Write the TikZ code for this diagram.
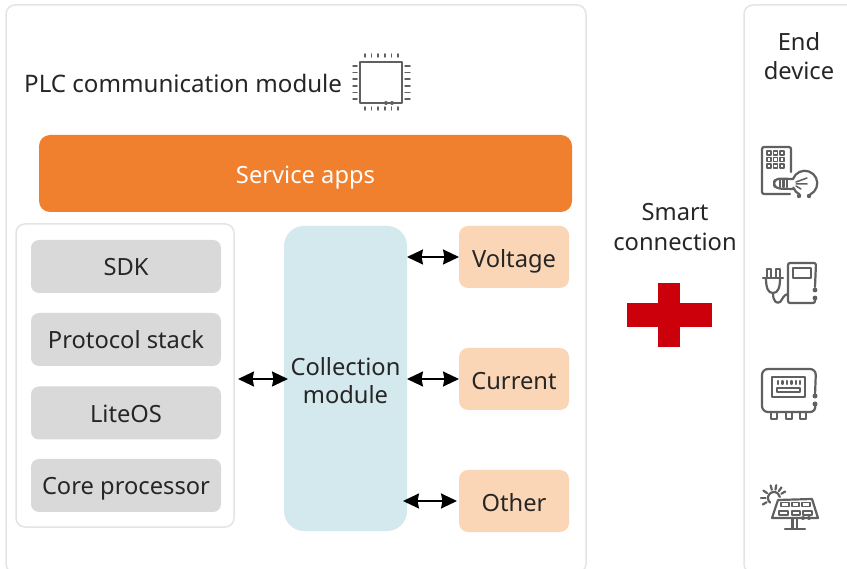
\documentclass[tikz,border=0pt]{standalone}
\usepackage{fontspec}
\setmainfont{Noto Sans}
\usetikzlibrary{arrows.meta,shapes,positioning}
\definecolor{plcorange}{RGB}{240,127,46}
\definecolor{plcgray}{RGB}{217,217,217}
\definecolor{plcteal}{RGB}{211,233,238}
\definecolor{plcpeach}{RGB}{251,214,182}
\definecolor{plcred}{RGB}{204,0,10}
\definecolor{plcline}{RGB}{228,228,228}
\definecolor{plcicon}{RGB}{96,96,96}
\definecolor{plctext}{RGB}{38,38,38}
\newcommand{\plcfont}{\fontsize{23.7}{30}\selectfont}
\tikzstyle{panel} = [rectangle, rounded corners=9pt, draw=plcline, fill=white, line width=1.5pt, inner sep=0pt, outer sep=0pt]
\tikzstyle{layer} = [rectangle, rounded corners=8pt, fill=plcgray, minimum width=190pt, minimum height=53pt, inner sep=0pt, outer sep=0pt, text=plctext, font=\plcfont, text height=19pt, text depth=0pt]
\tikzstyle{signal} = [rectangle, rounded corners=9pt, fill=plcpeach, minimum width=110pt, minimum height=62pt, inner sep=0pt, outer sep=0pt, text=plctext, font=\plcfont, text height=21pt, text depth=0pt]
\tikzstyle{label} = [inner sep=0pt, text=plctext, font=\plcfont, align=center]
\tikzstyle{link} = [line width=1.8pt, black, {Stealth[length=16pt,width=15pt,inset=1.5pt]}-{Stealth[length=16pt,width=15pt,inset=1.5pt]}]
\tikzstyle{icon} = [draw=plcicon, line width=2.2pt, line cap=round, line join=round]
\tikzstyle{thinicon} = [draw=plcicon, line width=1.5pt, line cap=round, line join=round]
\begin{document}
\begin{tikzpicture}[x=1pt,y=-1pt]
\clip (0,0) rectangle (847,569);

% Panels
\node[panel, minimum width=580pt, minimum height=568pt] (module) at (296,289) {};
\node[panel, minimum width=130pt, minimum height=568pt] (device) at (809,289) {};

% Title
\node[label, anchor=west, font=\fontsize{24.1}{30}\selectfont] (title) at (24,83) {PLC communication module};
\node[label] (enddevice) at (799,56) {End\\[-0.5pt]device};

% Chip
\draw[thinicon] (360,62) rectangle (402,103);
\foreach \i in {0,...,5} {
  \draw[thinicon] (365+6.6*\i,54) -- (365+6.6*\i,57);
  \draw[thinicon] (365+6.6*\i,107) -- (365+6.6*\i,110);
  \draw[thinicon] (353,66+6.6*\i) -- (357,66+6.6*\i);
  \draw[thinicon] (405,66+6.6*\i) -- (410,66+6.6*\i);
}
\fill[plcicon] (386,103) circle (2pt) (392,103) circle (2pt);

% Service apps
\node[rectangle, rounded corners=11pt, fill=plcorange, minimum width=533pt, minimum height=77pt, inner sep=0pt, text=white, font=\plcfont, text height=20pt, text depth=0pt] (service) at (305.5,173.5) {Service apps};

% Stack
\node[panel, minimum width=218pt, minimum height=303pt] (stack) at (125,375.5) {};
\node[layer] (sdk) at (126,266.5) {SDK};
\node[layer] (protocol) at (126,339.5) {Protocol stack};
\node[layer] (liteos) at (126,413) {LiteOS};
\node[layer] (core) at (126,485.5) {Core processor};

% Collection
\node[rectangle, rounded corners=20pt, fill=plcteal, minimum width=123pt, minimum height=305pt, inner sep=0pt, outer sep=0pt, text=plctext, font=\plcfont, align=center] (collection) at (345.5,378.5) {\rule{0pt}{22pt}Collection\\[-2pt]module};

% Signals
\node[signal] (voltage) at (514,257) {Voltage};
\node[signal] (current) at (514,379) {Current};
\node[signal] (other) at (514,501) {Other};

% Arrows
\draw[link, shorten <=4pt, shorten >=-4pt] (stack.east |- current.west) -- (collection.west |- current.west);
\draw[link] (collection.east |- voltage.west) -- (voltage.west);
\draw[link] (collection.east |- current.west) -- (current.west);
\draw[link, shorten <=-4pt, shorten >=2pt] (collection.east |- other.west) -- (other.west);

% Smart connection
\node[label] (smart) at (675,227) {Smart\\[-0.5pt]connection};
\fill[plcred] (627,303) rectangle (712,327);
\fill[plcred] (658,283) rectangle (680,347);

% Building and lamp
\draw[icon, rounded corners=2pt] (791,172) -- (791,147) -- (762,147) -- (762,194) -- (790,194);
\foreach \x in {769,775.5,782} \foreach \y in {153,159.5,166} {
  \draw[thinicon] (\x-2,\y-2) rectangle (\x+2,\y+2);
}
\draw[icon, rounded corners=4pt] (793,179) -- (776,178.5) -- (773,183.5) -- (776,188.5) -- (793,189);
\draw[icon] (793,179) arc (-160:65:12.5);
\draw[icon] (793.3,187.5) arc (-200:-245:12.5);
\draw[icon] (780,180) -- (780,187) (783.5,180) -- (783.5,187) (787,180) -- (787,187);
\draw[thinicon] (796,182) -- (807,178) (796,184) -- (807,184) (796,186) -- (801,189);
\fill[plcicon] (799,196) circle (2.2pt) (809,196) circle (2.2pt);

% Plug and box
\draw[icon, rounded corners=2pt] (815,287) -- (816,263) -- (788,263) -- (788,303) -- (815,303) -- (815,299);
\draw[icon] (793,268) rectangle (811,278);
\fill[plcicon] (815,290) circle (2.4pt) (815,298) circle (2.4pt);
\draw[icon] (763,278) -- (783,278);
\draw[icon] (767,277) -- (767,269) -- (771,269) -- (771,277);
\draw[icon] (776,277) -- (776,269) -- (780,269) -- (780,277);
\draw[icon] (766,278) .. controls (766,288) and (768,293) .. (773,293) .. controls (778,293) and (780,288) .. (780,278);
\draw[icon] (773,293) .. controls (773,302) and (777,304) .. (780,302) .. controls (783,299) and (783,295) .. (788,294);

% Meter
\draw[icon, rounded corners=6pt] (815,395) -- (816,369) -- (762,369) -- (762,412) -- (816,412) -- (815,404);
\draw[icon] (772,377) rectangle (805,397);
\foreach \x in {778,782.5,787,791.5,796,800} {
  \draw[icon] (\x,381) -- (\x,384);
}
\draw[thinicon] (777,388) rectangle (800,392);
\fill[plcicon] (815,396) circle (2.5pt) (815,404) circle (2.5pt);
\foreach \x in {771,786,800} {
  \draw[icon] (\x,412) -- (\x,419) -- (\x+6,419) -- (\x+6,412);
}

% Solar panel
\draw[icon] (770.1,502.6) arc (-230:-10:6);
\foreach \a in {180,145,105,80,55,30,210} {
  \draw[icon] (774,498) ++(-\a:8.5) -- ++(-\a:4.5);
}
\draw[icon] (778,500) -- (812,499) -- (818,518) -- (772,518) -- cycle;
\foreach \x/\y/\w in {781/502.5/8,792/502.5/7,802/502.5/8,779/511/9,792/511/8,803/511/9} {
  \draw[thinicon] (\x,\y) rectangle ++(\w,4);
}
\fill[plcicon] (803,518) circle (2pt) (809,518) circle (2pt);
\draw[icon] (792.5,518) -- (792.5,528) (797,518) -- (797,528);
\draw[icon] (785,529) -- (805,529);
\end{tikzpicture}
\end{document}
